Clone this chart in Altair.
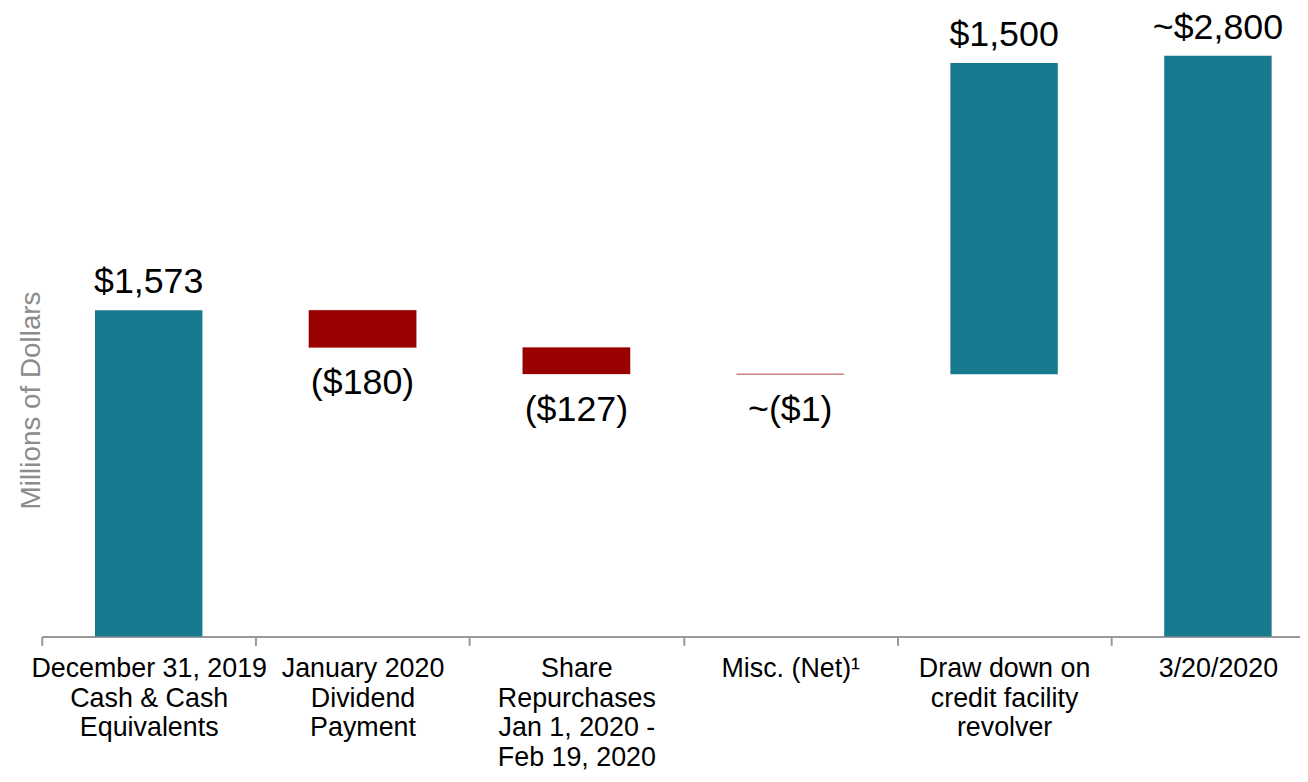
import altair as alt
import pandas as pd

categories = [
    "December 31, 2019|Cash & Cash|Equivalents",
    "January 2020|Dividend|Payment",
    "Share|Repurchases|Jan 1, 2020 -|Feb 19, 2020",
    "Misc. (Net)\u00b9",
    "Draw down on|credit facility|revolver",
    "3/20/2020",
]
values = [1573, -180, -127, -1, 1500, 2800]
kinds = ["total", "delta", "delta", "delta", "delta", "total"]
labels = ["$1,573", "($180)", "($127)", "~($1)", "$1,500", "~$2,800"]

rows = []
running = 0
for cat, val, kind, lab in zip(categories, values, kinds, labels):
    if kind == "total":
        start, end = 0, val
        running = val
    else:
        start, end = running, running + val
        running = end
    rows.append({
        "cat": cat, "start": start, "end": end, "label": lab,
        "sign": "neg" if val < 0 else "pos",
    })
df = pd.DataFrame(rows)

TEAL = "#17798e"
RED = "#990000"
FONT = "Liberation Sans"

x_scale = alt.Scale(paddingInner=0, paddingOuter=0, range=[0, 1291])
x_enc = alt.X(
    "cat:N", sort=categories, scale=x_scale,
    axis=alt.Axis(
        title=None, labelExpr="split(datum.label, '|')", labelAngle=0,
        labelFontSize=27, labelFont=FONT, labelColor="#000000",
        labelLineHeight=30, labelLimit=0, labelOverlap=False,
        labelPadding=10, tickSize=9, tickColor="#999999", tickWidth=2,
        domainColor="#999999", domainWidth=2, tickBand="extent",
        grid=False, labelBaseline="top",
    ),
)
y_scale = alt.Scale(domain=[0, 3000], nice=False)

base = alt.Chart(df)

bars = base.mark_bar(width=alt.RelativeBandSize(108 / 215)).encode(
    x=x_enc,
    y=alt.Y(
        "start:Q", scale=y_scale,
        axis=alt.Axis(
            title="Millions of Dollars", labels=False, ticks=False,
            domain=False, grid=False, titleFont=FONT, titleFontSize=28,
            titleFontWeight="normal", titleColor="#8c8c8c",
            titleX=-10, titleY=388, titleAngle=-90,
            titleAlign="center", titleBaseline="middle",
        ),
    ),
    y2="end:Q",
    color=alt.Color(
        "sign:N",
        scale=alt.Scale(domain=["pos", "neg"], range=[TEAL, RED]),
        legend=None,
    ),
    stroke=alt.condition(alt.datum.sign == "neg", alt.value(RED), alt.value(None)),
    strokeOpacity=alt.value(0.3),
    strokeWidth=alt.value(1),
)

pos_text = base.transform_filter(alt.datum.sign == "pos").mark_text(
    font=FONT, fontSize=36, baseline="alphabetic", dy=-17, color="#000000"
).encode(x=alt.X("cat:N", sort=categories, scale=x_scale),
         y=alt.Y("end:Q", scale=y_scale), text="label:N")

neg_text = base.transform_filter(alt.datum.sign == "neg").mark_text(
    font=FONT, fontSize=36, baseline="top", dy=19, color="#000000"
).encode(x=alt.X("cat:N", sort=categories, scale=x_scale),
         y=alt.Y("end:Q", scale=y_scale), text="label:N")

chart = alt.layer(bars, pos_text, neg_text).properties(
    width=1266, height=626,
    background="white",
    autosize=alt.AutoSizeParams(type="none"),
    padding={"left": 34, "top": 4, "right": 0, "bottom": 136},
).configure_view(stroke=None)

chart.save("out.html", embed_options={"renderer": "svg", "actions": False})
